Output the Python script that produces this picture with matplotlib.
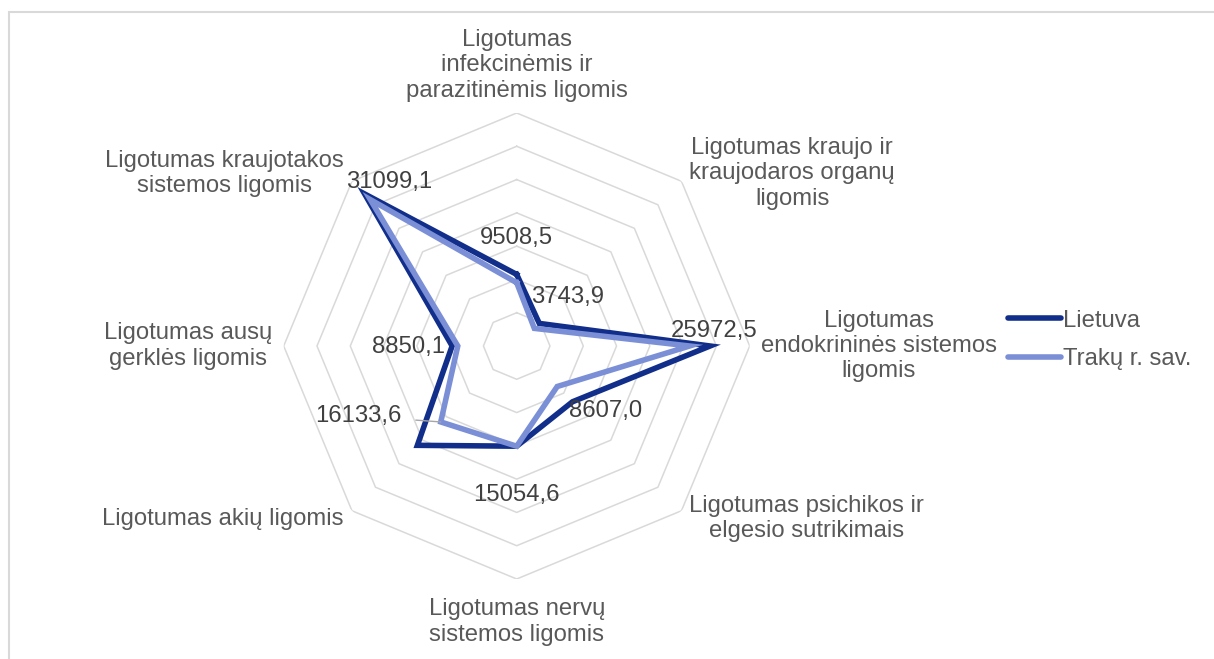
import numpy as np
import matplotlib
matplotlib.use("Agg")
import matplotlib.pyplot as plt
from matplotlib.patches import Rectangle

plt.rcParams['font.family'] = ['Liberation Sans', 'DejaVu Sans']

categories = [
    "Ligotumas\ninfekcinėmis ir\nparazitinėmis ligomis",
    "Ligotumas kraujo ir\nkraujodaros organų\nligomis",
    "Ligotumas\nendokrininės sistemos\nligomis",
    "Ligotumas psichikos ir\nelgesio sutrikimais",
    "Ligotumas nervų\nsistemos ligomis",
    "Ligotumas akių ligomis",
    "Ligotumas ausų\ngerklės ligomis",
    "Ligotumas kraujotakos\nsistemos ligomis",
]
lietuva = [10750, 4800, 29050, 11850, 15050, 21100, 9700, 32300]
traku = [9508.5, 3743.9, 25972.5, 8607.0, 15054.6, 16133.6, 8850.1, 31099.1]
traku_labels = ["9508,5", "3743,9", "25972,5", "8607,0", "15054,6", "16133,6", "8850,1", "31099,1"]
rings = [5000, 10000, 15000, 20000, 25000, 30000, 35000]

# label offsets in pixels (x right, y up), as dragged in the original
label_offsets = [(0, 45), (33, 31), (25, 15), (48, -24), (0, -49), (-82, 6), (-49, -1), (19, 18)]

W, H = 1214, 659
fig = plt.figure(figsize=(W / 100, H / 100), dpi=100)

cx, cy, R = 516.7, 346, 233
ax = fig.add_axes([(cx - R) / W, (H - cy - R) / H, 2 * R / W, 2 * R / H], projection='polar')
ax.set_theta_zero_location('N')
ax.set_theta_direction(-1)
ax.set_ylim(0, 35000)
ax.set_xticks([])
ax.set_yticks([])
ax.grid(False)
ax.spines['polar'].set_visible(False)
ax.patch.set_alpha(0)

n = len(categories)
theta = np.arange(n) * 2 * np.pi / n
theta_c = np.append(theta, theta[0])

for v in rings:
    ax.plot(theta_c, [v] * (n + 1), color='#d9d9d9', lw=1.1, zorder=1)

l1, = ax.plot(theta_c, lietuva + lietuva[:1], color='#112e8a', lw=4.0,
              solid_joinstyle='miter', label='Lietuva', zorder=3)
l2, = ax.plot(theta_c, traku + traku[:1], color='#7b8fd7', lw=4.0,
              solid_joinstyle='miter', label='Trakų r. sav.', zorder=4)

fs = 17.2
for t, lab in zip(theta, categories):
    s, c = np.sin(t), np.cos(t)
    ha = 'left' if s > 0.1 else ('right' if s < -0.1 else 'center')
    va = 'bottom' if c > 0.9 else ('top' if c < -0.9 else 'center')
    r = 37900 if c < -0.9 else 36700
    ax.text(t, r, lab, ha=ha, va=va, multialignment='center', fontsize=fs,
            color='#595959', linespacing=1.2, clip_on=False)

for i, (t, v, lab) in enumerate(zip(theta, traku, traku_labels)):
    dx, dy = label_offsets[i]
    kw = {}
    if i == 5:
        kw['arrowprops'] = dict(arrowstyle='-', color='#a6a6a6', lw=1.0, shrinkA=8, shrinkB=0)
    ax.annotate(lab, xy=(t, v), xytext=(dx, dy), textcoords='offset pixels',
                ha='center', va='center', fontsize=fs, color='#404040', zorder=5, **kw)

leg = fig.legend(handles=[l1, l2], loc='center left', bbox_to_anchor=(1008 / W, 1 - 340 / H),
                 frameon=False, fontsize=fs, handlelength=2.2, handletextpad=0.1,
                 labelspacing=0.7, borderpad=0, borderaxespad=0, labelcolor='#595959')
for h in leg.get_lines():
    h.set_solid_capstyle('round')

fig.add_artist(Rectangle((8.5 / W, -0.2), 1.5, 1.2 - 11.5 / H, transform=fig.transFigure,
                         fill=False, edgecolor='#d9d9d9', lw=1.5))

fig.savefig('out.png', dpi=100)
